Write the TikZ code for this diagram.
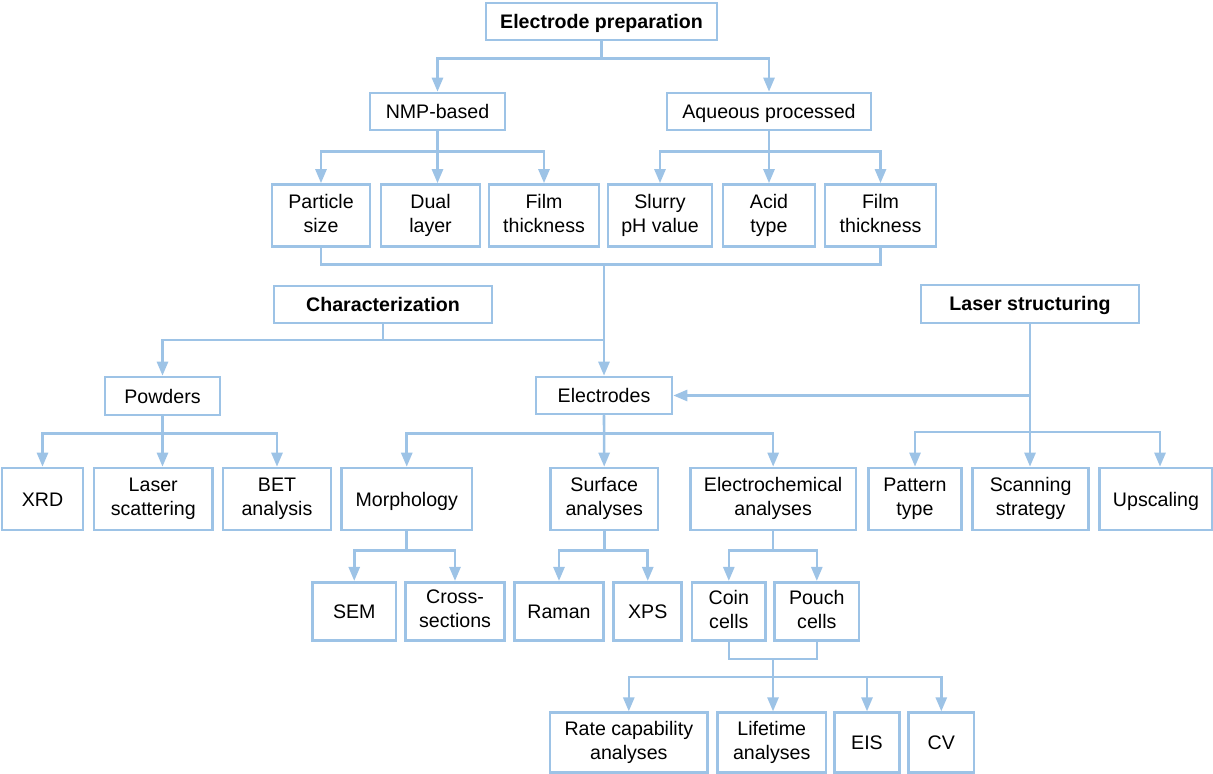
\documentclass[tikz,border=0pt]{standalone}
\usepackage{fontspec}
\setmainfont{Liberation Sans}
\usetikzlibrary{arrows.meta}
\definecolor{lb}{RGB}{157,195,230}
\newcommand\mystrut{\rule[-2.5pt]{0pt}{12pt}}
\begin{document}
\begin{tikzpicture}[x=0.5pt,y=-0.5pt,
  box/.style 2 args={draw=lb, line width=1.3pt, fill=white, align=center, inner sep=0pt,
    minimum width=#1*0.5pt, minimum height=#2*0.5pt, font=\fontsize{9.8}{12}\selectfont,
    execute at begin node=\mystrut, execute at end node=\mystrut},
  hd/.style={font=\fontsize{9.8}{12}\selectfont\bfseries},
  ln/.style={draw=lb, line width=1.3pt},
  arr/.style={ln, -{Triangle[width=5.5pt,length=7pt]}}]
\useasboundingbox (0,0) rectangle (1213,774);
% nodes
\node[box={231}{37}, hd] (ep) at (601.5,21.5) {Electrode preparation};
\node[box={135}{37}] (nmp) at (437.5,111.5) {NMP-based};
\node[box={204}{37}] (aq) at (769,111.5) {Aqueous processed};
\node[box={98}{62}] (ps) at (321,215.5) {Particle\\size};
\node[box={99}{62}] (dl) at (430.5,215.5) {Dual\\layer};
\node[box={110}{62}] (ft1) at (544,215.5) {Film\\thickness};
\node[box={104}{62}] (sph) at (660,215.5) {Slurry\\pH value};
\node[box={92}{62}] (at) at (769,215.5) {Acid\\type};
\node[box={111}{62}] (ft2) at (880.5,215.5) {Film\\thickness};
\node[box={218}{37}, hd] (char) at (383,304.5) {Characterization};
\node[box={218}{38}, hd] (ls) at (1030,304) {Laser structuring};
\node[box={115}{38}] (pow) at (162.5,396) {Powders};
\node[box={136}{37}] (el) at (604,395.5) {Electrodes};
\node[box={81}{62}] (xrd) at (42.5,499) {XRD};
\node[box={118.5}{62}] (lsc) at (153.25,499) {Laser\\scattering};
\node[box={108}{62}] (bet) at (277,499) {BET\\analysis};
\node[box={130.5}{62}] (mor) at (406.75,499) {Morphology};
\node[box={107.6}{62}] (sur) at (604.2,499) {Surface\\analyses};
\node[box={165.7}{62}] (ech) at (773.15,499) {Electrochemical\\analyses};
\node[box={93.4}{62}] (pt) at (915,499) {Pattern\\type};
\node[box={116}{62}] (ss) at (1030.6,499) {Scanning\\strategy};
\node[box={112.6}{62}] (up) at (1156,499) {Upscaling};
\node[box={83.5}{58.5}] (sem) at (354.25,611.5) {SEM};
\node[box={99}{58.5}] (cs) at (455,611.5) {Cross-\\sections};
\node[box={89.3}{58.5}] (ram) at (559,611.5) {Raman};
\node[box={68}{58.5}] (xps) at (647.75,611.5) {XPS};
\node[box={73.6}{58.5}] (coin) at (728.8,611.5) {Coin\\cells};
\node[box={84.4}{58.5}] (pouch) at (816.8,611.5) {Pouch\\cells};
\node[box={157.6}{59.6}] (rate) at (628.8,742.5) {Rate capability\\analyses};
\node[box={108.6}{59.6}] (life) at (771.7,742.5) {Lifetime\\analyses};
\node[box={65.2}{59.6}] (eis) at (867,742.5) {EIS};
\node[box={65.5}{59.6}] (cv) at (941.3,742.5) {CV};
% connectors
\draw[arr] (ep.south) -- ++(0,17) -| (nmp.north);
\draw[arr] (ep.south) -- ++(0,17) -| (aq.north);
\draw[arr] (nmp.south) -- ++(0,20) -| (ps.north);
\draw[arr] (nmp.south) -- (nmp.south |- dl.north);
\draw[arr] (nmp.south) -- ++(0,20) -| (ft1.north);
\draw[arr] (aq.south) -- ++(0,20) -| (sph.north);
\draw[arr] (aq.south) -- (at.north);
\draw[arr] (aq.south) -- ++(0,20) -| (ft2.north);
\draw[ln] (ps.south) -- ++(0,17) -| (ft2.south);
\coordinate (j1) at (604,263.5);
\draw[arr] (j1) -- (el.north);
\coordinate (j2) at (383,340);
\draw[ln] (char.south) -- (j2);
\draw[arr] (j2) -| (pow.north);
\draw[ln] (j2) -- (j2 -| el.north);
\coordinate (j3) at (1030,432);
\draw[ln] (ls.south) -- (j3);
\draw[arr] (ls.south |- el.east) -- (el.east);
\draw[arr] (j3) -| (pt.north);
\draw[arr] (j3) -- (j3 |- ss.north);
\draw[arr] (j3) -| ([xshift=2pt]up.north);
\draw[arr] (pow.south) -- ++(0,17) -| (xrd.north);
\draw[arr] (pow.south) -- (pow.south |- lsc.north);
\draw[arr] (pow.south) -- ++(0,17) -| (bet.north);
\draw[arr] (el.south) -- ++(0,18) -| (mor.north);
\draw[arr] (el.south) -- (sur.north);
\draw[arr] (el.south) -- ++(0,18) -| (ech.north);
\draw[arr] (mor.south) -- ++(0,19) -| (sem.north);
\draw[arr] (mor.south) -- ++(0,19) -| (cs.north);
\draw[arr] (sur.south) -- ++(0,19) -| (ram.north);
\draw[arr] (sur.south) -- ++(0,19) -| (xps.north);
\draw[arr] (ech.south) -- ++(0,19) -| (coin.north);
\draw[arr] (ech.south) -- ++(0,19) -| (pouch.north);
\draw[ln] (coin.south) -- ++(0,17) -| (pouch.south);
\coordinate (j4) at (773,658);
\draw[arr] (j4) -- ++(0,19) -| (rate.north);
\draw[arr] (j4) -- (j4 |- life.north);
\draw[arr] (j4) -- ++(0,19) -| (eis.north);
\draw[arr] (j4) -- ++(0,19) -| (cv.north);
\end{tikzpicture}
\end{document}
